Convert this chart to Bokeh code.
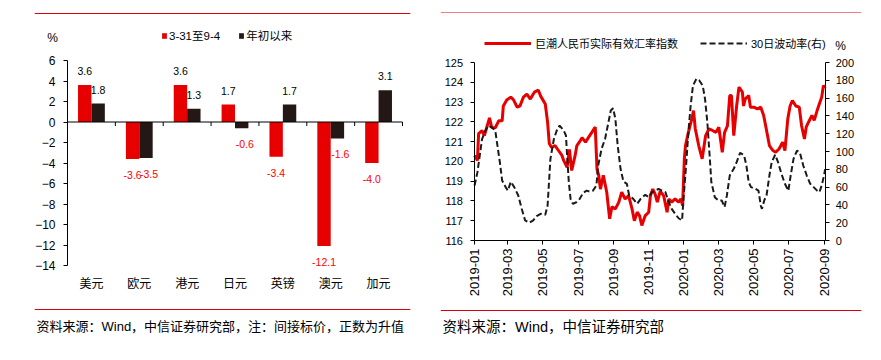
import calendar
import datetime as dt
import math

import pandas as pd
from bokeh.core.properties import value
from bokeh.embed import file_html
from bokeh.layouts import row
from bokeh.models import (ColumnDataSource, DatetimeTickFormatter, FixedTicker,
                          Label, Legend, LegendItem, LinearAxis, Range1d, Span)
from bokeh.plotting import figure
from bokeh.resources import INLINE

# ---------------- data: left panel ----------------
currencies = ["美元", "欧元", "港元", "日元", "英镑", "澳元", "加元"]
series_names = ["3-31至9-4", "年初以来"]
chg_since_0331 = [3.6, -3.6, 3.6, 1.7, -3.4, -12.1, -4.0]
chg_ytd = [1.8, -3.5, 1.3, -0.6, 1.7, -1.6, 3.1]
left_y_ticks = [-14, -12, -10, -8, -6, -4, -2, 0, 2, 4, 6]
left_source = "资料来源：Wind，中信证券研究部，注：间接标价，正数为升值"

# ---------------- data: right panel ----------------
line_names = ["巨潮人民币实际有效汇率指数", "30日波动率(右)"]
date_ticks = ["2019-01", "2019-03", "2019-05", "2019-07", "2019-09", "2019-11",
              "2020-01", "2020-03", "2020-05", "2020-07", "2020-09"]
reer_ticks = [116, 117, 118, 119, 120, 121, 122, 123, 124, 125]
vol_ticks = [0, 20, 40, 60, 80, 100, 120, 140, 160, 180, 200]
right_source = "资料来源：Wind，中信证券研究部"
axis_start, axis_end = "2019-01-01", "2020-09-04"

reer_dates = [
    "2019-01-02", "2019-01-07", "2019-01-09", "2019-01-15", "2019-01-19", "2019-01-24", "2019-01-28",
    "2019-02-01", "2019-02-07", "2019-02-13", "2019-02-19", "2019-02-21", "2019-02-27",
    "2019-03-06", "2019-03-11", "2019-03-17", "2019-03-22", "2019-03-28",
    "2019-04-03", "2019-04-09", "2019-04-16", "2019-04-23", "2019-04-27",
    "2019-05-05", "2019-05-09", "2019-05-12", "2019-05-16", "2019-05-22", "2019-05-28",
    "2019-06-03", "2019-06-06", "2019-06-12", "2019-06-16", "2019-06-20", "2019-06-26", "2019-06-29",
    "2019-07-05", "2019-07-08", "2019-07-14", "2019-07-19", "2019-07-25", "2019-07-31",
    "2019-08-03", "2019-08-06", "2019-08-09", "2019-08-14", "2019-08-20", "2019-08-25", "2019-08-29",
    "2019-09-04", "2019-09-10", "2019-09-15", "2019-09-21", "2019-09-27",
    "2019-10-03", "2019-10-07", "2019-10-12", "2019-10-16", "2019-10-20", "2019-10-26",
    "2019-11-01", "2019-11-04", "2019-11-08", "2019-11-12", "2019-11-16", "2019-11-21", "2019-11-27",
    "2019-12-03", "2019-12-06", "2019-12-11", "2019-12-17", "2019-12-23", "2019-12-27", "2019-12-30",
    "2020-01-02", "2020-01-04", "2020-01-09", "2020-01-15", "2020-01-18", "2020-01-21", "2020-01-27",
    "2020-02-02", "2020-02-08", "2020-02-14", "2020-02-20", "2020-02-26",
    "2020-03-02", "2020-03-08", "2020-03-12", "2020-03-17", "2020-03-21", "2020-03-24", "2020-03-28",
    "2020-04-02", "2020-04-06", "2020-04-12", "2020-04-14", "2020-04-17", "2020-04-23", "2020-04-26",
    "2020-05-02", "2020-05-08", "2020-05-14", "2020-05-19", "2020-05-23", "2020-05-29",
    "2020-06-04", "2020-06-09", "2020-06-15", "2020-06-21", "2020-06-25", "2020-06-30",
    "2020-07-04", "2020-07-08", "2020-07-14", "2020-07-20", "2020-07-24", "2020-07-29",
    "2020-08-01", "2020-08-05", "2020-08-11", "2020-08-15", "2020-08-20", "2020-08-24", "2020-08-28", "2020-08-31",
    "2020-09-03",
]
reer_values = [
    120.3, 120.05, 121.4, 121.56, 121.3, 121.8, 122.2,
    121.7, 121.7, 122.05, 122.05, 122.8, 123.1,
    123.25, 123.1, 122.75, 122.8, 123.25,
    123.4, 123.15, 123.5, 123.6, 123.3,
    122.9, 122.0, 120.9, 120.7, 120.8, 120.55,
    120.3, 120.05, 119.7, 120.6, 119.54, 120.3, 120.8,
    121.05, 121.2, 120.97, 121.2, 121.47, 121.73,
    119.6, 119.3, 118.6, 119.3, 118.44, 117.1, 117.7,
    117.6, 117.94, 118.44, 118.1, 118.27,
    117.6, 117.0, 117.43, 117.26, 116.76, 117.26,
    117.43, 118.27, 118.6, 118.36, 117.94, 118.5, 118.27,
    117.43, 118.1, 117.94, 118.1, 117.94, 118.1, 117.77,
    120.13, 120.8, 121.47, 122.15, 122.57, 121.65, 120.8,
    120.13, 121.3, 121.65, 121.56, 121.47,
    121.73, 120.46, 121.47, 121.8, 123.33, 123.33, 121.3,
    122.8, 123.75, 123.5, 122.8, 123.16, 123.33, 122.74,
    122.74, 122.66, 122.74, 122.32, 121.73, 120.8,
    120.55, 120.46, 120.64, 120.97, 120.55, 122.15,
    122.8, 123.08, 122.8, 122.74, 121.8, 121.13,
    121.73, 121.98, 122.32, 122.07, 122.57, 122.91, 123.25, 123.84,
    123.7,
]

vol_dates = [
    "2019-01-02", "2019-01-07", "2019-01-11", "2019-01-15", "2019-01-21", "2019-01-26",
    "2019-02-01", "2019-02-07", "2019-02-10", "2019-02-15", "2019-02-19", "2019-02-25",
    "2019-03-01", "2019-03-06", "2019-03-12", "2019-03-19", "2019-03-25", "2019-03-31",
    "2019-04-07", "2019-04-14", "2019-04-20", "2019-04-27",
    "2019-05-05", "2019-05-09", "2019-05-14", "2019-05-20", "2019-05-26", "2019-05-30",
    "2019-06-06", "2019-06-10", "2019-06-12", "2019-06-15", "2019-06-18", "2019-06-22", "2019-06-28",
    "2019-07-04", "2019-07-10", "2019-07-16", "2019-07-21", "2019-07-27",
    "2019-08-02", "2019-08-05", "2019-08-11", "2019-08-17", "2019-08-23", "2019-08-27", "2019-08-31",
    "2019-09-04", "2019-09-08", "2019-09-13", "2019-09-18", "2019-09-24", "2019-09-28",
    "2019-10-05", "2019-10-12", "2019-10-18", "2019-10-26",
    "2019-11-01", "2019-11-07", "2019-11-13", "2019-11-18", "2019-11-24", "2019-11-30",
    "2019-12-06", "2019-12-11", "2019-12-17", "2019-12-23", "2019-12-29",
    "2020-01-01", "2020-01-05", "2020-01-09", "2020-01-13", "2020-01-17", "2020-01-23", "2020-01-28",
    "2020-02-03", "2020-02-07", "2020-02-11", "2020-02-15", "2020-02-18", "2020-02-24",
    "2020-03-01", "2020-03-07", "2020-03-12", "2020-03-16", "2020-03-21", "2020-03-28",
    "2020-04-02", "2020-04-08", "2020-04-11", "2020-04-15", "2020-04-19", "2020-04-23", "2020-04-27",
    "2020-05-05", "2020-05-10", "2020-05-14", "2020-05-16", "2020-05-20", "2020-05-24", "2020-05-29",
    "2020-06-02", "2020-06-08", "2020-06-13", "2020-06-19", "2020-06-25",
    "2020-07-01", "2020-07-05", "2020-07-10", "2020-07-16", "2020-07-21", "2020-07-27",
    "2020-08-02", "2020-08-08", "2020-08-14", "2020-08-20", "2020-08-24", "2020-08-28",
    "2020-09-01", "2020-09-03",
]
vol_values = [
    61.8, 76.8, 95.5, 114, 123.6, 129,
    127, 123.6, 110, 88, 67.4, 60,
    56, 66, 60, 50.6, 35.6, 22.5,
    19.9, 22.5, 27.3, 30,
    28.9, 39, 91.8, 114, 125.5, 129,
    123.6, 118, 95.5, 65.5, 46.8, 41.2, 43,
    46.8, 53.6, 56, 55, 56,
    61.8, 84, 103, 114, 133, 146, 148.6,
    136.7, 106.7, 80.6, 66.3, 63.7, 50.6,
    46.8, 41.2, 46.8, 51.3,
    48.7, 54.3, 56, 58, 56, 54.3,
    43, 35.6, 30, 25, 22.5,
    50.6, 84, 121.7, 151.7, 174, 181.7, 179.8,
    174, 159, 133, 95.5, 65.5, 48.7,
    45, 45, 37.5, 50.6, 73, 80.6,
    88, 98.5, 97.4, 95.5, 84, 65.5, 60,
    58, 56, 39.3, 35.6, 45, 50.6, 73,
    88, 96.3, 88, 75, 63.7,
    56, 73, 91.8, 101, 99, 84,
    73, 63.7, 60, 56, 54.3, 61.8,
    73, 80,
]

# ---------------- styles ----------------
FONT = "'Liberation Sans', 'Noto Sans CJK SC', sans-serif"
RED = "#e60000"
DARK = "#231815"
LINE_RED = "#d7000f"
TXT = "#000000"
DAY_MS = 86400000.0
ORIGIN_X, ORIGIN_Y = 0, 0   # where the layout lands on the page


def style_axis(ax, size="12px", standoff=8):
    ax.axis_line_color = "#000000"
    ax.axis_line_width = 1
    ax.major_tick_line_color = "#000000"
    ax.major_tick_out = 4
    ax.major_tick_in = 0
    ax.minor_tick_line_color = None
    ax.major_label_text_font = FONT
    ax.major_label_text_font_size = size
    ax.major_label_text_color = TXT
    ax.major_label_standoff = standoff


def bare(p):
    p.outline_line_color = None
    p.xgrid.grid_line_color = None
    p.ygrid.grid_line_color = None
    p.background_fill_color = "white"
    p.border_fill_color = "white"


def txt(p, x, y, text, size, align="left", color=TXT):
    p.add_layout(Label(x=x, y=y, text=text, text_align=align, text_baseline="middle",
                       text_font=FONT, text_font_size=size, text_color=color))


# ================= LEFT PANEL =================
# page-pixel geometry of the panel (layout only)
L_W, L_H = 440, 352
L_FL, L_FR, L_FT, L_FB = 34, 410, 12, 352          # frame edges
L_X0, L_PXU = 67, 335 / len(currencies)             # x=0 at px 67, px per category
L_Y6, L_PYU = 60, 205 / 20                          # y=6 at px 60, px per unit


def lx(px):
    return (px - L_X0) / L_PXU


def ly(py):
    return 6 - (py - L_Y6) / L_PYU


n = len(currencies)
centers = [i + 0.5 for i in range(n)]
bar_w = 0.28
p1 = figure(width=L_W, height=L_H,
            x_range=Range1d(lx(L_FL), lx(L_FR)), y_range=Range1d(ly(L_FB), ly(L_FT)),
            output_backend="svg", toolbar_location=None,
            min_border_left=L_FL - ORIGIN_X, min_border_right=ORIGIN_X + L_W - L_FR,
            min_border_top=L_FT - ORIGIN_Y, min_border_bottom=ORIGIN_Y + L_H - L_FB)
bare(p1)

src = ColumnDataSource(dict(
    x1=[c - bar_w / 2 for c in centers], x2=[c + bar_w / 2 for c in centers],
    a=chg_since_0331, b=chg_ytd))
r_a = p1.vbar(x="x1", top="a", bottom=0, width=bar_w, source=src, fill_color=RED, line_color=None)
r_b = p1.vbar(x="x2", top="b", bottom=0, width=bar_w, source=src, fill_color=DARK, line_color=None)

lab_x, lab_y, lab_t, lab_c, lab_o, lab_xo = [], [], [], [], [], []
for k, (xs, vals) in enumerate(((src.data["x1"], chg_since_0331), (src.data["x2"], chg_ytd))):
    for x, v in zip(xs, vals):
        lab_x.append(x)
        lab_y.append(v)
        lab_t.append(f"{v:.1f}")
        lab_c.append(TXT if v >= 0 else "#ff0000")
        lab_o.append(-14 if v >= 0 else 16)
        lab_xo.append(3 if (k == 1 and v < 0) else 0)
p1.text(x=lab_x, y=lab_y, text=lab_t, text_color=lab_c, y_offset=lab_o, x_offset=lab_xo,
        text_align="center", text_baseline="middle", text_font=value(FONT),
        text_font_size="10.5px")

# zero line with category separators
p1.segment(x0=[0], y0=[0], x1=[n], y1=[0], line_color="#000000", line_width=1)
tick_len = 4 / L_PYU
p1.segment(x0=list(range(1, n + 1)), y0=[0] * n, x1=list(range(1, n + 1)),
           y1=[-tick_len] * n, line_color="#000000", line_width=1)

ya = p1.yaxis[0]
style_axis(ya, "12px", 8)
ya.ticker = FixedTicker(ticks=left_y_ticks)
ya.fixed_location = 0
ya.bounds = (left_y_ticks[0], left_y_ticks[-1])

xa = p1.xaxis[0]
style_axis(xa, "12px", 11)
xa.axis_line_color = None
xa.major_tick_line_color = None
xa.major_tick_out = 0
xa.ticker = FixedTicker(ticks=centers)
xa.major_label_overrides = {c: name for c, name in zip(centers, currencies)}
xa.fixed_location = left_y_ticks[0]

leg1 = Legend(items=[LegendItem(label=series_names[0], renderers=[r_a]),
                     LegendItem(label=series_names[1], renderers=[r_b])],
              location=(161 - L_FL, L_FB - 43), orientation="horizontal",
              glyph_width=6, glyph_height=7, label_height=12, label_standoff=2,
              spacing=18, padding=0, margin=0, border_line_color=None,
              background_fill_alpha=0, label_text_font=FONT, label_text_font_size="11.5px",
              label_text_color=TXT)
p1.add_layout(leg1)
txt(p1, lx(52), ly(37), "%", "12px", "center")
p1.add_layout(Span(location=ly(13), dimension="width", line_color=LINE_RED, line_width=1))
p1.add_layout(Span(location=ly(309), dimension="width", line_color=LINE_RED, line_width=1))
txt(p1, lx(36), ly(325.5), left_source, "13px")


# ================= RIGHT PANEL =================
def to_ms(s, fmt):
    d = dt.datetime.strptime(s, fmt)
    return calendar.timegm(d.timetuple()) * 1000.0


R_LEFT, R_W, R_H = 440, 433, 352
R_FL, R_FR, R_FT, R_FB = 440, 861, 12, 352
R_X0 = 473.5                       # axis_start at px 473.5
x0_ms = to_ms(axis_start, "%Y-%m-%d")
x1_ms = to_ms(axis_end, "%Y-%m-%d")
R_PXD = 350 / 609                   # px per day
R_Y125, R_PYU = 62, 178 / 9
R_PVU = 178 / 200


def rx(px):
    return x0_ms + (px - R_X0) / R_PXD * DAY_MS


def ry(py):
    return 125 - (py - R_Y125) / R_PYU


def rv(py):
    return 200 - (py - R_Y125) / R_PVU


tick_ms = [to_ms(s, "%Y-%m") for s in date_ticks]

p2 = figure(width=R_W, height=R_H, x_axis_type="datetime",
            x_range=Range1d(rx(R_FL), rx(R_FR)), y_range=Range1d(ry(R_FB), ry(R_FT)),
            output_backend="svg", toolbar_location=None,
            min_border_left=R_FL - R_LEFT, min_border_right=R_LEFT + R_W - R_FR,
            min_border_top=R_FT - ORIGIN_Y, min_border_bottom=ORIGIN_Y + R_H - R_FB)
bare(p2)
p2.extra_y_ranges = {"vol": Range1d(rv(R_FB), rv(R_FT))}

r_reer = p2.line(pd.to_datetime(reer_dates), reer_values, line_color=RED, line_width=3)
r_vol = p2.line(pd.to_datetime(vol_dates), vol_values, y_range_name="vol",
                line_color="#1a1a1a", line_width=2, line_dash="6 3")

ya2 = p2.yaxis[0]
style_axis(ya2, "11px", 7)
ya2.ticker = FixedTicker(ticks=reer_ticks)
ya2.fixed_location = x0_ms
ya2.bounds = (reer_ticks[0], reer_ticks[-1])

ax_r = LinearAxis(y_range_name="vol", ticker=FixedTicker(ticks=vol_ticks),
                  fixed_location=x1_ms, bounds=(vol_ticks[0], vol_ticks[-1]))
style_axis(ax_r, "11px", 6)
p2.add_layout(ax_r, "right")

xa2 = p2.xaxis[0]
style_axis(xa2, "13px", 4)
xa2.ticker = FixedTicker(ticks=tick_ms)
xa2.formatter = DatetimeTickFormatter(years="%Y-%m", months="%Y-%m", days="%Y-%m")
xa2.major_label_orientation = math.pi / 2
xa2.fixed_location = reer_ticks[0]
xa2.bounds = (x0_ms, x1_ms)

leg2 = Legend(items=[LegendItem(label=line_names[0], renderers=[r_reer]),
                     LegendItem(label=line_names[1], renderers=[r_vol])],
              location=(484 - R_FL, R_FB - 51), orientation="horizontal",
              glyph_width=47, glyph_height=12, label_height=12, label_standoff=4,
              spacing=22, padding=0, margin=0, border_line_color=None,
              background_fill_alpha=0, label_text_font=FONT, label_text_font_size="11px",
              label_text_color=TXT)
p2.add_layout(leg2)
txt(p2, rx(840), ry(45), "%", "12px", "center")
p2.add_layout(Span(location=ry(12), dimension="width", line_color=LINE_RED, line_width=1))
p2.add_layout(Span(location=ry(310), dimension="width", line_color=LINE_RED, line_width=1))
txt(p2, rx(442), ry(326), right_source, "14.5px")

layout = row(p1, p2)
open("out.html", "w").write(file_html(layout, INLINE))
